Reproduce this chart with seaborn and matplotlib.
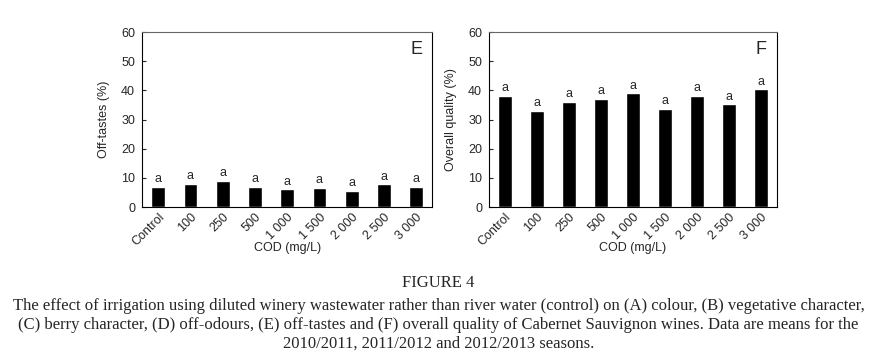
import matplotlib
matplotlib.use('Agg')
import matplotlib.pyplot as plt
import seaborn as sns
import pandas as pd

sns.set_style('ticks')
plt.rcParams['font.family'] = ['Liberation Sans', 'DejaVu Sans']

cod = ['Control', '100', '250', '500', '1 000', '1 500', '2 000', '2 500', '3 000']
off_tastes = [7.0, 8.0, 9.0, 7.0, 6.2, 6.6, 5.6, 7.9, 6.9]
overall_quality = [38.2, 33.0, 36.1, 37.1, 39.1, 33.7, 38.2, 35.3, 40.5]
letters_e = ['a'] * 9
letters_f = ['a'] * 9

caption_title = 'FIGURE 4'
caption = ('The effect of irrigation using diluted winery wastewater rather than river water (control) on (A) colour, (B) vegetative character,\n'
           '(C) berry character, (D) off-odours, (E) off-tastes and (F) overall quality of Cabernet Sauvignon wines. Data are means for the\n'
           '2010/2011, 2011/2012 and 2012/2013 seasons.')


def panel(ax, values, letters, ylabel, tag):
    df = pd.DataFrame({'cod': cod, 'val': values})
    sns.barplot(data=df, x='cod', y='val', color='black', width=0.43,
                saturation=1, ax=ax)
    ax.bar_label(ax.containers[0], labels=letters, padding=1, fontsize=9)
    ax.set_ylim(0, 60)
    ax.set_xlim(-0.5, 8.5)
    ax.set_yticks(range(0, 61, 10))
    ax.tick_params(axis='y', direction='in', length=3, labelsize=9, pad=5)
    ax.tick_params(axis='x', length=0, labelsize=9, pad=3)
    ax.set_xticks(range(len(cod)))
    ax.set_xticklabels(cod, rotation=45, ha='right', rotation_mode='anchor')
    ax.set_ylabel(ylabel, fontsize=9)
    ax.yaxis.set_label_coords(-0.11, 0.5)
    ax.set_xlabel('COD (mg/L)', fontsize=9, va='top')
    ax.xaxis.set_label_coords(0.5, -0.2)
    for s in ax.spines.values():
        s.set_visible(True)
        s.set_color('black')
        s.set_linewidth(0.8)
    ax.spines['top'].set_color('#666666')
    ax.text(0.965, 0.9, tag, transform=ax.transAxes, ha='right', va='center',
            fontsize=13)


def main():
    fig = plt.figure(figsize=(8.77, 3.6), dpi=100)
    ax1 = fig.add_axes([0.162, 0.425, 0.331, 0.486])
    ax2 = fig.add_axes([0.5576, 0.425, 0.3284, 0.486])
    panel(ax1, off_tastes, letters_e, 'Off-tastes (%)', 'E')
    panel(ax2, overall_quality, letters_f, 'Overall quality (%)', 'F')

    fig.text(0.5, 1 - 283 / 360, caption_title, ha='center', va='center',
             fontsize=12, family='Liberation Serif')
    fig.text(0.5, 1 - 325 / 360, caption, ha='center', va='center',
             fontsize=12, family='Liberation Serif', linespacing=1.25)

    fig.savefig('out.png', dpi=100)


if __name__ == '__main__':
    main()
